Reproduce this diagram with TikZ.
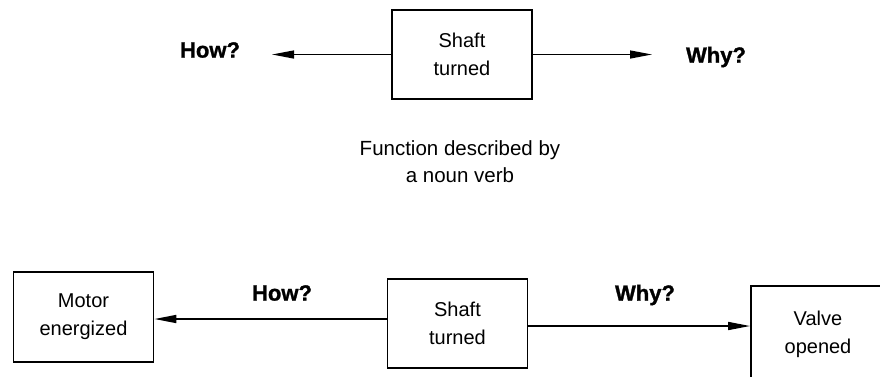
\documentclass[tikz,border=0pt]{standalone}
\usepackage{fontspec}
\setmainfont{Liberation Sans}
\newfontfamily\heavyfont[FakeBold=1.2]{Liberation Sans Bold}
\usetikzlibrary{arrows.meta}
\begin{document}
\begin{tikzpicture}[x=1pt,y=-1pt,
  fbox/.style={draw, line width=1.8pt, minimum width=140pt, align=center,
    font=\fontsize{20}{28}\selectfont, inner sep=0pt},
  qlabel/.style={font=\fontsize{22}{26}\selectfont\heavyfont, inner sep=0pt},
  plain/.style={font=\fontsize{20.5}{27}\selectfont, align=center, inner sep=0pt},
  arr/.style={line width=1.6pt, -{Triangle[length=22pt,width=8pt]}}]
\useasboundingbox (0,0) rectangle (880,376);
% top
\node[fbox, minimum height=89pt] (t) at (462,54.5) {Shaft\\turned};
\coordinate (thow) at (272,54.5);
\coordinate (twhy) at (652,54.5);
\draw[arr, line width=1.3pt] (t.west) -- (thow);
\draw[arr, line width=1.3pt] (t.east) -- (twhy);
\node[qlabel] (howt) at (210,50) {How?};
\node[qlabel] (whyt) at (716,57) {Why?};
\node[plain] (fn) at (460,161.5) {Function described by\\a noun verb};
% bottom
\node[fbox, minimum height=90pt] (m) at (83.5,317) {Motor\\energized};
\node[fbox, minimum height=89pt] (s) at (457.5,323.5) {Shaft\\turned};
\node[fbox, minimum width=134pt, minimum height=97pt] (v) at (818,334.5) {Valve\\opened};
\draw[arr] (s.west |- 0,319) -- (m.east |- 0,319);
\draw[arr] (s.east |- 0,326) -- (v.west |- 0,326);
\node[qlabel] (howb) at (282,293) {How?};
\node[qlabel] (whyb) at (645,295) {Why?};
\end{tikzpicture}
\end{document}
